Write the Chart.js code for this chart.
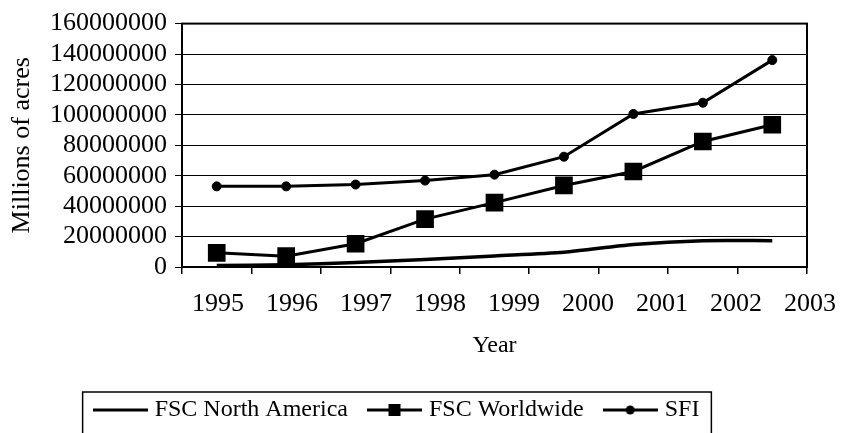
<!DOCTYPE html>
<html>
<head>
<meta charset="utf-8">
<script src="https://cdn.jsdelivr.net/npm/chart.js@4/dist/chart.umd.min.js"></script>
<style>
  html, body { margin: 0; padding: 0; background: #fff; }
  canvas { display: block; }
</style>
</head>
<body>
<canvas id="c" width="841" height="433"></canvas>
<script>
// ---- data ----
const years = ['1995', '1996', '1997', '1998', '1999', '2000', '2001', '2002', '2003'];
const yearTickLabels = [1995, 1996, 1997, 1998, 1999, 2000, 2001, 2002, 2003];
const fscNorthAmerica = [1000000, 1500000, 3000000, 5000000, 7300000, 9700000, 14800000, 17300000, 17300000];
const fscWorldwide = [9300000, 7100000, 15300000, 31500000, 42300000, 53600000, 62800000, 82500000, 93500000];
const sfi = [53000000, 53000000, 54200000, 56800000, 60700000, 72500000, 100600000, 108000000, 136000000];
const yTickValues = [0, 20000000, 40000000, 60000000, 80000000, 100000000, 120000000, 140000000, 160000000];
const seriesNames = ['FSC North America', 'FSC Worldwide', 'SFI'];

const FONT = "'Liberation Serif', 'Times New Roman', serif";
const FS = 24;      // legend / x title
const FS_TICK = 26; // numeric tick labels
const FS_YT = 26;   // y title

// legend sample images (line + marker)
function legendSample(marker) {
  const cv = document.createElement('canvas');
  cv.width = 55; cv.height = 16;
  const g = cv.getContext('2d');
  g.strokeStyle = '#000'; g.lineWidth = 3;
  g.beginPath(); g.moveTo(0, 8); g.lineTo(55, 8); g.stroke();
  g.fillStyle = '#000';
  if (marker === 'rect') g.fillRect(21.5, 2, 12, 12);
  if (marker === 'circle') { g.beginPath(); g.arc(27.5, 8, 4.5, 0, Math.PI * 2); g.fill(); }
  return cv;
}
const samples = [legendSample('none'), legendSample('rect'), legendSample('circle')];

const framePlugin = {
  id: 'frame',
  afterLayout(chart) {
    const lg = chart.legend;
    if (lg) { lg.left -= 5; lg.right -= 5; }
  },
  beforeDatasetsDraw(chart) {
    const a = chart.chartArea, ctx = chart.ctx;
    ctx.save();
    ctx.strokeStyle = '#000'; ctx.lineWidth = 2;
    ctx.strokeRect(a.left, a.top, a.right - a.left, a.bottom - a.top);
    ctx.restore();
  },
  afterDraw(chart) {
    const lg = chart.legend;
    if (!lg || !lg.legendHitBoxes || !lg.legendHitBoxes.length) return;
    const hb = lg.legendHitBoxes;
    const l = hb[0].left - 15;
    const r = hb[hb.length - 1].left + hb[hb.length - 1].width + 12;
    const t = lg.top + 18;
    const ctx = chart.ctx;
    ctx.save();
    ctx.strokeStyle = '#000'; ctx.lineWidth = 1.5;
    ctx.beginPath();
    ctx.moveTo(l, chart.height + 5); ctx.lineTo(l, t); ctx.lineTo(r, t); ctx.lineTo(r, chart.height + 5);
    ctx.stroke();
    ctx.restore();
  }
};

new Chart(document.getElementById('c'), {
  type: 'line',
  data: {
    labels: years,
    datasets: [
      {
        label: seriesNames[0], data: fscNorthAmerica, xAxisID: 'x', yAxisID: 'y',
        borderColor: '#000', borderWidth: 3.5, pointRadius: 0, tension: 0.25, fill: false
      },
      {
        label: seriesNames[1], data: fscWorldwide, xAxisID: 'x', yAxisID: 'y',
        borderColor: '#000', borderWidth: 3, pointStyle: 'rect', pointRadius: 12.5,
        pointBackgroundColor: '#000', pointBorderColor: '#000', pointBorderWidth: 0, tension: 0, fill: false
      },
      {
        label: seriesNames[2], data: sfi, xAxisID: 'x', yAxisID: 'y',
        borderColor: '#000', borderWidth: 3, pointStyle: 'circle', pointRadius: 4.5,
        pointBackgroundColor: '#000', pointBorderColor: '#000', pointBorderWidth: 1, tension: 0, fill: false
      }
    ]
  },
  options: {
    responsive: false,
    animation: false,
    layout: { padding: { top: 20, right: 34, bottom: 1, left: 0 } },
    font: { family: FONT, size: FS },
    color: '#000',
    scales: {
      x: {
        type: 'category',
        position: 'bottom',
        weight: 0,
        offset: true,
        grid: { display: true, offset: true, drawOnChartArea: false, drawTicks: true, tickLength: 7, color: '#000', lineWidth: 1.5 },
        border: { display: true, color: '#000', width: 2 },
        ticks: { display: false },
        afterFit(s) { s.height = 7; s.paddingLeft = 0; s.paddingRight = 0; }
      },
      xl: {
        type: 'linear',
        axis: 'x',
        position: 'bottom',
        weight: 1,
        min: 1994.5135,
        max: 2002.9595,
        grid: { display: false, drawTicks: false, tickLength: 0 },
        border: { display: false },
        ticks: {
          autoSkip: false, maxRotation: 0, padding: 15, color: '#000',
          font: { family: FONT, size: FS_TICK },
          callback: (v) => String(v)
        },
        afterBuildTicks(s) { s.ticks = yearTickLabels.map(v => ({ value: v })); },
        title: { display: true, text: 'Year', color: '#000', font: { family: FONT, size: FS, lineHeight: 1.2 }, padding: { top: 4, bottom: 13.6 } },
        afterFit(s) { s.height = 100; s.paddingLeft = 0; s.paddingRight = 0; }
      },
      y: {
        type: 'linear',
        position: 'left',
        min: 0,
        max: 160000000,
        afterBuildTicks(s) { s.ticks = yTickValues.map(v => ({ value: v })); },
        grid: { display: true, color: '#000', lineWidth: 1, drawTicks: true, tickLength: 7 },
        border: { display: true, color: '#000', width: 2 },
        ticks: { autoSkip: false, padding: 8, color: '#000', font: { family: FONT, size: FS_TICK }, callback: (v) => String(v) },
        title: { display: true, text: 'Millions of acres', color: '#000', font: { family: FONT, size: FS_YT, lineHeight: 1.2 }, padding: { top: 7, bottom: 0 } },
        afterFit(s) { s.width = 182; }
      }
    },
    plugins: {
      legend: {
        display: true,
        position: 'bottom',
        labels: {
          color: '#000',
          font: { family: FONT, size: FS },
          usePointStyle: true,
          pointStyleWidth: 45,
          padding: 24,
          generateLabels(chart) {
            const items = Chart.defaults.plugins.legend.labels.generateLabels(chart);
            items.forEach((it, i) => { it.pointStyle = samples[i]; it.lineWidth = 0; });
            return items;
          }
        }
      },
      tooltip: { enabled: false }
    }
  },
  plugins: [framePlugin]
});
</script>
</body>
</html>
